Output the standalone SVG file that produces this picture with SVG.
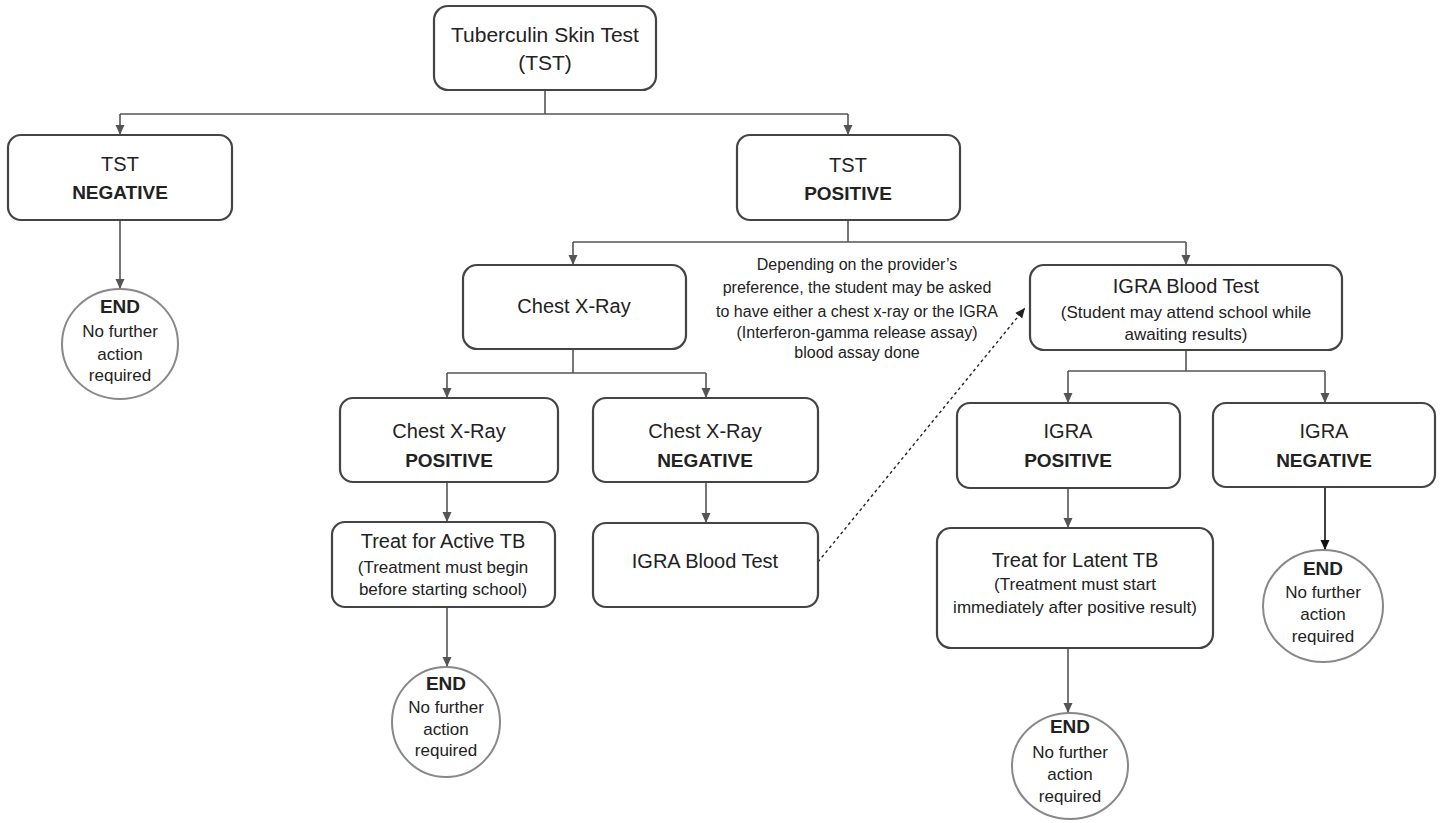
<svg xmlns="http://www.w3.org/2000/svg" width="1444" height="823" viewBox="0 0 1444 823">
<defs>
<marker id="arr" viewBox="0 0 10 10" refX="10" refY="5" markerWidth="10" markerHeight="10" markerUnits="userSpaceOnUse" orient="auto">
<path d="M0,0.5 L10,5 L0,9.5 Z" fill="#555"/>
</marker>
<marker id="arrk" viewBox="0 0 10 10" refX="10" refY="5" markerWidth="10" markerHeight="10" markerUnits="userSpaceOnUse" orient="auto">
<path d="M0,0.5 L10,5 L0,9.5 Z" fill="#111"/>
</marker>
<marker id="arrd" viewBox="0 0 10 10" refX="10" refY="5" markerWidth="10" markerHeight="10" markerUnits="userSpaceOnUse" orient="auto">
<path d="M0,0.5 L10,5 L0,9.5 Z" fill="#222"/>
</marker>
</defs>
<style>
.box{fill:#fff;stroke:#444;stroke-width:2.2}
.end{fill:#fff;stroke:#888;stroke-width:2}
.c{fill:none;stroke:#555;stroke-width:1.6}
text{font-family:"Liberation Sans",Arial,sans-serif;fill:#222;text-anchor:middle}
.t{font-size:20px}
.tt{font-size:21px}
.b{font-size:19px;font-weight:bold}
.s{font-size:17px}
.eb{font-size:19px;font-weight:bold}
.n{font-size:16px}
</style>
<rect width="1444" height="823" fill="#fff"/>
<g id="connectors">
<path class="c" d="M545 90 V114 M120 114 H848"/>
<path class="c" d="M120 114 V135" marker-end="url(#arr)"/>
<path class="c" d="M848 114 V135" marker-end="url(#arr)"/>
<path class="c" d="M120 220 V289" marker-end="url(#arr)"/>
<path class="c" d="M848 220 V242 M573 242 H1186"/>
<path class="c" d="M573 242 V265" marker-end="url(#arr)"/>
<path class="c" d="M1186 242 V265" marker-end="url(#arr)"/>
<path class="c" d="M573 349 V373 M447 373 H706"/>
<path class="c" d="M447 373 V398" marker-end="url(#arr)"/>
<path class="c" d="M706 373 V398" marker-end="url(#arr)"/>
<path class="c" d="M447 482 V522" marker-end="url(#arr)"/>
<path class="c" d="M706 482 V523" marker-end="url(#arr)"/>
<path class="c" d="M447 607 V667" marker-end="url(#arr)"/>
<path d="M818 562 L1025 308" fill="none" stroke="#222" stroke-width="1.4" stroke-dasharray="3,3" marker-end="url(#arrd)"/>
<path class="c" d="M1186 350 V371 M1068 371 H1325"/>
<path class="c" d="M1068 371 V403" marker-end="url(#arr)"/>
<path class="c" d="M1325 371 V403" marker-end="url(#arr)"/>
<path class="c" d="M1068 488 V528" marker-end="url(#arr)"/>
<path class="c" d="M1068 648 V713" marker-end="url(#arr)"/>
<path d="M1325 487 V550" fill="none" stroke="#111" stroke-width="1.6" marker-end="url(#arrk)"/>
</g>
<g id="tst">
<rect class="box" x="434" y="6" width="222" height="84" rx="14"/>
<text class="tt" x="545" y="42">Tuberculin Skin Test</text>
<text class="tt" x="545" y="70">(TST)</text>
</g>
<g id="tst-negative">
<rect class="box" x="8" y="135" width="224" height="85" rx="13"/>
<text class="t" x="120" y="171">TST</text>
<text class="b" x="120" y="199">NEGATIVE</text>
</g>
<g id="tst-positive">
<rect class="box" x="737" y="135" width="223" height="85" rx="13"/>
<text class="t" x="848" y="172">TST</text>
<text class="b" x="848" y="200">POSITIVE</text>
</g>
<g id="end-1">
<ellipse class="end" cx="120" cy="344" rx="58" ry="55"/>
<text class="eb" x="120" y="313">END</text>
<text class="s" x="120" y="337">No further</text>
<text class="s" x="120" y="360">action</text>
<text class="s" x="120" y="381">required</text>
</g>
<g id="chest-xray">
<rect class="box" x="463" y="265" width="223" height="84" rx="14"/>
<text class="t" x="574" y="313">Chest X-Ray</text>
</g>
<g id="note">
<text class="n" x="857" y="270">Depending on the provider’s</text>
<text class="n" x="857" y="293">preference, the student may be asked</text>
<text class="n" x="857" y="317">to have either a chest x-ray or the IGRA</text>
<text class="n" x="857" y="338">(Interferon-gamma release assay)</text>
<text class="n" x="857" y="358">blood assay done</text>
</g>
<g id="cxr-positive">
<rect class="box" x="340" y="398" width="218" height="84" rx="13"/>
<text class="t" x="449" y="438">Chest X-Ray</text>
<text class="b" x="449" y="467">POSITIVE</text>
</g>
<g id="cxr-negative">
<rect class="box" x="593" y="398" width="225" height="84" rx="13"/>
<text class="t" x="705" y="438">Chest X-Ray</text>
<text class="b" x="705" y="467">NEGATIVE</text>
</g>
<g id="treat-active">
<rect class="box" x="332" y="522" width="223" height="85" rx="13"/>
<text class="t" x="443" y="548">Treat for Active TB</text>
<text class="s" x="443" y="573">(Treatment must begin</text>
<text class="s" x="443" y="595">before starting school)</text>
</g>
<g id="igra-blood-test-2">
<rect class="box" x="593" y="523" width="225" height="84" rx="13"/>
<text class="t" x="705" y="568">IGRA Blood Test</text>
</g>
<g id="end-2">
<ellipse class="end" cx="446" cy="722" rx="54" ry="55"/>
<text class="eb" x="446" y="690">END</text>
<text class="s" x="446" y="713">No further</text>
<text class="s" x="446" y="735">action</text>
<text class="s" x="446" y="756">required</text>
</g>
<g id="igra-blood-test">
<rect class="box" x="1030" y="265" width="312" height="85" rx="14"/>
<text class="t" x="1186" y="293">IGRA Blood Test</text>
<text class="s" x="1186" y="318">(Student may attend school while</text>
<text class="s" x="1186" y="340">awaiting results)</text>
</g>
<g id="igra-positive">
<rect class="box" x="957" y="403" width="223" height="85" rx="13"/>
<text class="t" x="1068" y="438">IGRA</text>
<text class="b" x="1068" y="467">POSITIVE</text>
</g>
<g id="igra-negative">
<rect class="box" x="1213" y="403" width="222" height="84" rx="13"/>
<text class="t" x="1324" y="438">IGRA</text>
<text class="b" x="1324" y="467">NEGATIVE</text>
</g>
<g id="treat-latent">
<rect class="box" x="937" y="528" width="276" height="120" rx="14"/>
<text class="t" x="1075" y="567">Treat for Latent TB</text>
<text class="s" x="1075" y="590">(Treatment must start</text>
<text class="s" x="1075" y="613">immediately after positive result)</text>
</g>
<g id="end-3">
<ellipse class="end" cx="1070" cy="766" rx="58" ry="53"/>
<text class="eb" x="1070" y="733">END</text>
<text class="s" x="1070" y="758">No further</text>
<text class="s" x="1070" y="780">action</text>
<text class="s" x="1070" y="802">required</text>
</g>
<g id="end-4">
<ellipse class="end" cx="1323" cy="606" rx="60" ry="56"/>
<text class="eb" x="1323" y="575">END</text>
<text class="s" x="1323" y="598">No further</text>
<text class="s" x="1323" y="620">action</text>
<text class="s" x="1323" y="642">required</text>
</g>
</svg>
